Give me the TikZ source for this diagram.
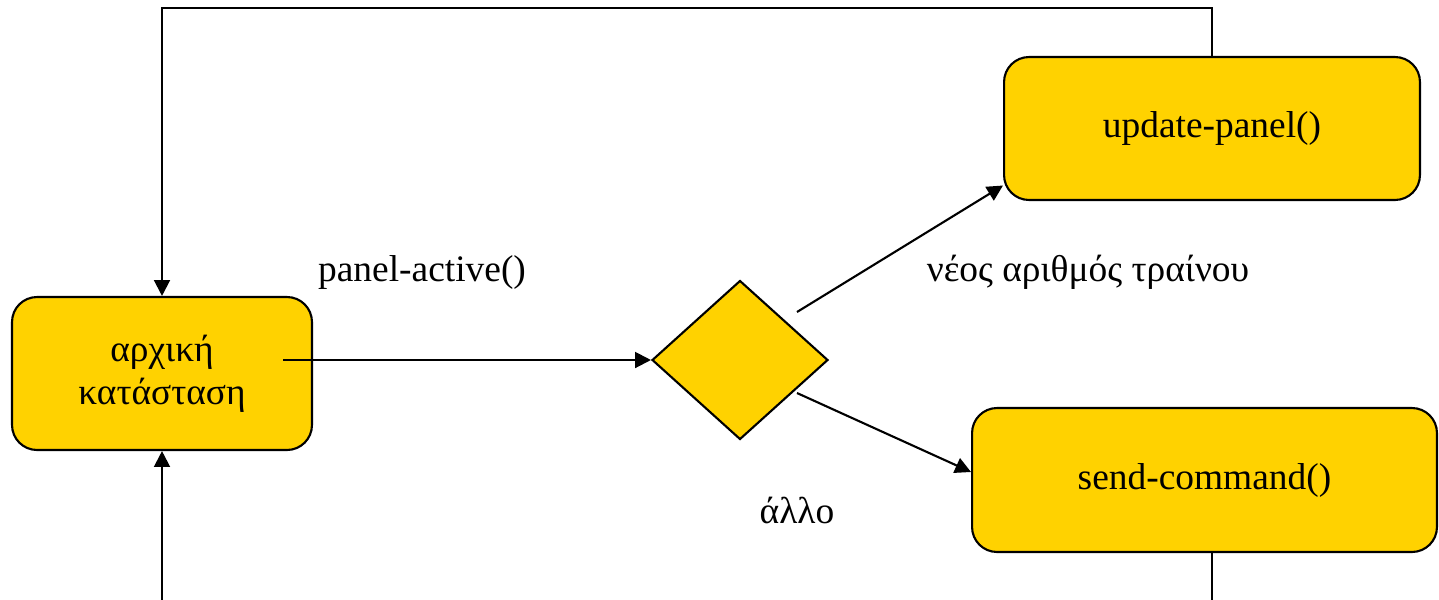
\documentclass[tikz,border=0pt]{standalone}
\usepackage{fontspec}
\setmainfont{Liberation Serif}
\usepackage{tikz}
\usetikzlibrary{calc, positioning}
\usetikzlibrary{shapes.geometric, arrows.meta}
\definecolor{panelgold}{RGB}{255,210,0}

\begin{document}
\begin{tikzpicture}[x=0.02cm, y=-0.02cm, line width=1.2pt,
    state/.style={draw, fill=panelgold, rounded corners=0.5cm, align=center, font=\fontsize{21.3}{24.4}\selectfont},
    choice/.style={draw, fill=panelgold, diamond, inner sep=0pt, minimum width=3.52cm, minimum height=3.18cm},
    flow/.style={-{Triangle[length=9pt, width=9pt]}},
    lbl/.style={font=\fontsize{21.3}{24.4}\selectfont}]
            \useasboundingbox (0,0) rectangle (1439,599);

            % states and the choice
            \node[state, minimum width=6cm, minimum height=3.06cm] (init) at (162,373.5) {αρχική\\κατάσταση};
            \node[choice] (split) at (740,360) {};
            \node[state, minimum width=8.32cm, minimum height=2.86cm] (upd) at (1212,128.5) {update-panel()};
            \node[state, minimum width=9.3cm, minimum height=2.88cm] (send) at (1204.5,480) {send-command()};

            % labels on the transitions
            \node[lbl] (activelbl) at (422,272) {panel-active()};
            \node[lbl] (newlbl) at (1088,272) {νέος αριθμός τραίνου};
            \node[lbl] (otherlbl) at (797,510) {άλλο};

            % loose ends of the connectors
            \coordinate (splitin) at (283,360);
            \coordinate (toupd) at (797,312);
            \coordinate (tosend) at (797,393);
            \coordinate (bottomout) at (1212,600);
            \coordinate (bottomin) at (162,600);

            \draw[flow] (splitin) -- (split.west);
            \draw[flow] (toupd) -- ($(upd.west)+(0,57)$);
            \draw[flow] (tosend) -- ($(send.west)+(0,-8)$);
            \draw[flow] (upd.north) -- ++(0,-48) -| (init.north);
            \draw (send.south -| bottomout) -- (bottomout);
            \draw[flow] (bottomin) -- (init.south);
        \end{tikzpicture}
\end{document}
